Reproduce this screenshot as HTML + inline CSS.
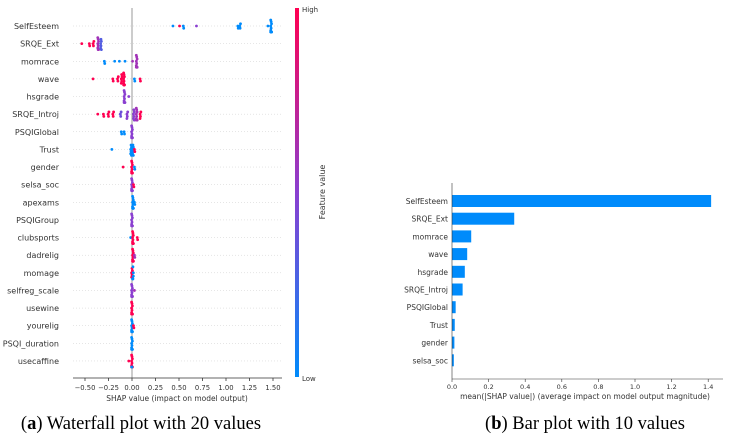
<!DOCTYPE html>
<html><head><meta charset="utf-8"><style>
body{margin:0;background:#fff;width:729px;height:440px;overflow:hidden}
svg text{font-family:"DejaVu Sans","Liberation Sans",sans-serif}
.cap{font-family:"Liberation Serif",serif;font-size:18.5px;fill:#000}
</style></head><body>
<svg id="c" width="729" height="440" viewBox="0 0 729 440" xmlns="http://www.w3.org/2000/svg">
<defs><linearGradient id="cb" x1="0" y1="1" x2="0" y2="0"><stop offset="0" stop-color="#008bfb"/><stop offset="0.5" stop-color="#8a3fd0"/><stop offset="1" stop-color="#ff0051"/></linearGradient></defs>
</svg>
<script>
// Left beeswarm data
const features=["SelfEsteem","SRQE_Ext","momrace","wave","hsgrade","SRQE_Introj","PSQIGlobal","Trust","gender","selsa_soc","apexams","PSQIGroup","clubsports","dadrelig","momage","selfreg_scale","usewine","yourelig","PSQI_duration","usecaffine"];
// clusters per feature: [shap value, count, colour(0=low,1=high)]
const clusters=[
 [[0.44,1,0],[0.51,1,1],[0.55,2,0],[0.69,1,0.5],[1.13,2,0],[1.15,3,0],[1.45,1,0],[1.48,14,0]],
 [[-0.53,1,1],[-0.45,2,1],[-0.41,3,1],[-0.36,8,0.6],[-0.33,6,0.3]],
 [[-0.29,2,0],[-0.18,1,0],[-0.13,1,0],[-0.07,1,0],[0.01,1,0.6],[0.05,12,0.6]],
 [[-0.41,1,1],[-0.2,2,1],[-0.15,3,1],[-0.11,5,1],[-0.085,12,1],[0.03,2,0],[0.09,2,1]],
 [[-0.08,10,0.5],[-0.03,1,0.5]],
 [[-0.36,1,1],[-0.3,2,1],[-0.25,3,1],[-0.2,3,1],[-0.12,3,0.4],[-0.05,4,0.5],[0.02,6,0.5],[0.05,10,0.6],[0.09,4,1]],
 [[-0.11,2,0],[-0.08,2,0],[0.0,10,0.5]],
 [[-0.21,1,0],[-0.01,6,0],[0.01,6,0],[0.03,2,1]],
 [[-0.09,1,1],[0.0,10,1],[0.03,2,0]],
 [[0.0,10,0.5],[0.02,2,1]],
 [[0.01,10,0],[0.03,2,0]],
 [[0.0,10,0.5]],
 [[-0.01,1,0],[0.01,10,1],[0.06,2,1]],
 [[0.01,10,1],[0.03,2,0.6]],
 [[0.0,5,1],[0.01,6,0]],
 [[0.0,10,0.5],[0.03,1,0.6]],
 [[0.0,10,1]],
 [[0.0,10,0],[0.02,2,1]],
 [[0.0,10,0]],
 [[-0.03,1,1],[0.0,10,1],[0.0,2,0]]
];
const xTicksL=[-0.5,-0.25,0,0.25,0.5,0.75,1,1.25,1.5];
// Right bar data
const barFeatures=["SelfEsteem","SRQE_Ext","momrace","wave","hsgrade","SRQE_Introj","PSQIGlobal","Trust","gender","selsa_soc"];
const barValues=[1.416,0.34,0.105,0.083,0.07,0.058,0.02,0.015,0.013,0.01];
const xTicksR=[0,0.2,0.4,0.6,0.8,1.0,1.2,1.4];

const svg=document.getElementById('c');
const NS="http://www.w3.org/2000/svg";
function mk(t,a,p){const e=document.createElementNS(NS,t);for(const k in a)e.setAttribute(k,a[k]);(p||svg).appendChild(e);return e;}
function col(c){const a=[0,139,251],b=[255,0,81];const m=[138,63,208];let r;if(c<0.5){const t=c*2;r=a.map((v,i)=>v+(m[i]-v)*t);}else{const t=(c-0.5)*2;r=m.map((v,i)=>v+(b[i]-v)*t);}return `rgb(${r.map(Math.round).join(',')})`;}

// left axes
const xL=v=>132+v*94, yL=i=>26+i*17.63;
const gL=mk('g',{});  
features.forEach((f,i)=>{
 const gl=mk('line',{x1:73,x2:282,y1:yL(i),y2:yL(i),stroke:'#ccc','stroke-width':0.5,'stroke-dasharray':'1,2'},gL);
  
 const t=mk('text',{x:59,y:yL(i)+3,'text-anchor':'end','font-size':8,fill:'#333'},gL); t.textContent=f;
  
});
const zl=mk('line',{x1:132,x2:132,y1:8,y2:378,stroke:'#999','stroke-width':1},gL);
 
clusters.forEach((cl,i)=>{
 const placed=[];
 cl.forEach(([v,n,c])=>{
  for(let k=0;k<n;k++){
   const x=xL(v)+((k%3)-1)*0.4;
   let off=0;
   for(let s=0;s<20;s++){const o=(s%2?1:-1)*Math.ceil(s/2)*1.1;
     if(!placed.some(p=>Math.hypot(p[0]-x,p[1]-o)<1.5)){off=o;break;}}
   off=Math.max(-6,Math.min(6,off));
   placed.push([x,off]);
   const d=mk('circle',{cx:x,cy:yL(i)+off,r:1.4,fill:col(c)},gL);
    
  }
 });
});
const axL=mk('line',{x1:73,x2:282,y1:378,y2:378,stroke:'#333','stroke-width':0.8},gL);
 
xTicksL.forEach(v=>{
 mk('line',{x1:xL(v),x2:xL(v),y1:378,y2:381,stroke:'#333','stroke-width':0.8},gL);
 const t=mk('text',{x:xL(v),y:390,'text-anchor':'middle','font-size':6.8,fill:'#333'},gL);
 t.textContent=(v<0?'\u2212':'')+Math.abs(v).toFixed(2);
  
});
let t=mk('text',{x:177,y:401,'text-anchor':'middle','font-size':7.5,fill:'#333'},gL);t.textContent='SHAP value (impact on model output)';
 
const cbar=mk('rect',{x:295,y:8,width:4,height:369,fill:'url(#cb)'});
 
t=mk('text',{x:302,y:12,'font-size':7,fill:'#333'});t.textContent='High';
t=mk('text',{x:302,y:381,'font-size':7,fill:'#333'});t.textContent='Low';
t=mk('text',{x:325,y:192,'font-size':8,fill:'#333','text-anchor':'middle',transform:'rotate(-90 325 192)'});t.textContent='Feature value';
 

// right bars
const xR=v=>452+v*183, yR=i=>201+i*17.7;
const gR=mk('g',{});  
barFeatures.forEach((f,i)=>{
 const b=mk('rect',{x:xR(0),y:yR(i)-6,width:xR(barValues[i])-xR(0),height:12,fill:'#008bfb'},gR);
  
 const l=mk('text',{x:448,y:yR(i)+3,'text-anchor':'end','font-size':7.5,fill:'#333'},gR);l.textContent=f;
  
});
const ay=mk('line',{x1:452,x2:452,y1:183,y2:379,stroke:'#333','stroke-width':0.6},gR);
 
const ax=mk('line',{x1:452,x2:723,y1:379,y2:379,stroke:'#333','stroke-width':0.6},gR);
 
xTicksR.forEach(v=>{
 mk('line',{x1:xR(v),x2:xR(v),y1:379,y2:382,stroke:'#333','stroke-width':0.6},gR);
 const l=mk('text',{x:xR(v),y:389,'text-anchor':'middle','font-size':6.5,fill:'#333'},gR);l.textContent=v.toFixed(1);
  
});
t=mk('text',{x:585,y:399,'text-anchor':'middle','font-size':7.5,fill:'#333'},gR);t.textContent='mean(|SHAP value|) (average impact on model output magnitude)';
 

// captions
t=mk('text',{x:141,y:429,'text-anchor':'middle',class:'cap'});t.innerHTML='(<tspan font-weight="bold">a</tspan>) Waterfall plot with 20 values';
 
t=mk('text',{x:585,y:429,'text-anchor':'middle',class:'cap'});t.innerHTML='(<tspan font-weight="bold">b</tspan>) Bar plot with 10 values';
 
</script>
</body></html>
